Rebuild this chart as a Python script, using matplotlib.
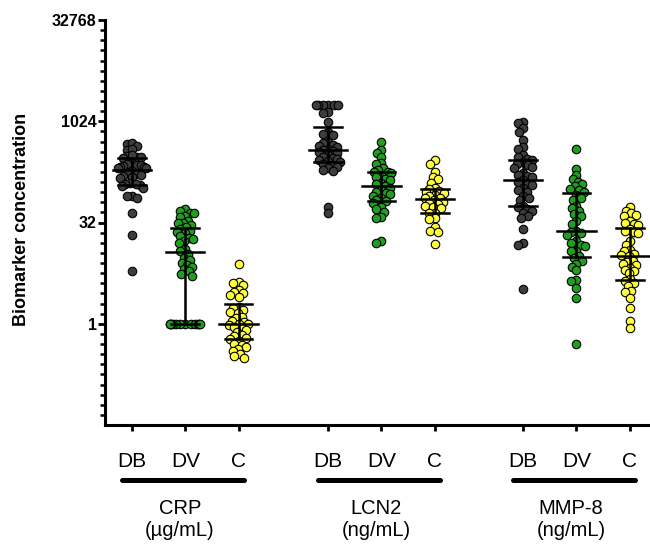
import numpy as np
import matplotlib
matplotlib.use('Agg')
import matplotlib.pyplot as plt
from matplotlib import transforms
from matplotlib.ticker import NullFormatter

plt.rcParams['font.family'] = ['Liberation Sans', 'DejaVu Sans']

# ---------------- data ----------------
groups = ['DB', 'DV', 'C']
biomarkers = ['CRP', 'LCN2', 'MMP-8']
units = ['(\u00b5g/mL)', '(ng/mL)', '(ng/mL)']
positions = [0, 1, 2, 3.68, 4.68, 5.68, 7.34, 8.34, 9.34]
colors = ['#3d3d3d', '#1f9e1f', '#ffff3a']

crp_db = [465, 480, 440, 378, 390, 300, 310, 290, 320, 298,
          245, 238, 230, 226, 220, 215, 212, 208, 205,
          185, 175, 168, 160, 155, 150, 145,
          125, 118, 114, 110, 105, 120, 80, 78, 75, 44, 21, 6]
crp_dv = [50, 47, 45, 44, 40, 38, 34, 32, 31, 29, 27, 26, 24, 23, 22, 20, 19, 18, 17, 16,
          13, 12, 11, 9.5, 9, 8, 7.5, 7, 6.5, 6, 5.5, 5.2,
          1, 1, 1, 1, 1, 1, 1, 1, 1, 1, 1, 1]
crp_c = [7.8, 4.2, 4.0, 3.8, 3.2, 3.0, 2.9, 2.7, 2.5, 1.8, 1.7, 1.6, 1.5, 1.45,
         1.25, 1.2, 1.1, 1.05, 1.0, 1.0, 0.95, 0.9, 0.85, 0.8, 0.75,
         0.68, 0.65, 0.62, 0.6, 0.56, 0.5, 0.48, 0.45, 0.42, 0.4, 0.35, 0.33, 0.31]
lcn2_db = [1800, 1800, 1800, 1800, 1800, 1800, 1400, 1350, 990, 700, 660, 630,
           500, 480, 460, 440, 420, 395, 380, 365, 354, 340, 320,
           300, 290, 280, 270, 260, 250, 240, 230, 215, 205, 195, 185, 55, 44]
lcn2_dv = [500, 380, 340, 300, 245, 235, 205, 195, 182, 178, 172, 160, 150, 140, 135,
           125, 118, 110, 105, 96, 92, 88, 84, 80, 74, 70, 66, 62, 54, 50, 46, 39, 37, 17, 16]
lcn2_c = [270, 240, 180, 150, 140, 125, 105, 100, 95, 90, 88, 82, 78, 75, 73,
          68, 65, 62, 60, 56, 54, 52, 45, 44, 37, 36, 27, 24, 23, 15.5]
mmp8_db = [1000, 950, 805, 700, 530, 420, 400, 320, 300, 280, 270, 250, 240, 230, 215, 210,
           175, 165, 155, 150, 135, 128, 120, 115, 103, 96, 90, 80, 75, 68,
           57, 54, 50, 48, 44, 40, 37, 26, 16, 15, 3.3]
mmp8_dv = [400, 200, 161, 140, 130, 118, 110, 100, 96, 92, 82, 75, 70, 57, 52, 48, 43, 40,
           34, 30, 24, 23, 22, 21, 17, 16, 15, 14.5, 12.2, 12, 10.3, 9.5, 8.7,
           7.8, 7, 6.2, 4.5, 4.3, 3.4, 2.4, 0.5]
mmp8_c = [55, 48, 44, 41, 40, 34, 32, 30, 29, 26, 24, 23, 22, 17, 15,
          12.5, 12, 11, 10.5, 10, 8.7, 8.3, 7.8, 7.5, 6.8, 6.4, 6, 5.6,
          4.6, 4.3, 4, 3.7, 3.1, 3.0, 2.4, 1.7, 1.1, 0.85]
series = [crp_db, crp_dv, crp_c, lcn2_db, lcn2_dv, lcn2_c, mmp8_db, mmp8_dv, mmp8_c]

ytick_vals = [1, 32, 1024, 32768]
ytick_labels = ['1', '32', '1024', '32768']

# ---------------- figure ----------------
fig = plt.figure(figsize=(6.5, 5.5), dpi=100)
ax = fig.add_axes([105/650, 125/550, 545/650, 405/550])
ax.set_yscale('log', base=2)
ax.set_xlim(-0.507, 9.72)
ax.set_ylim(2.0**-5, 32768)

for s in ['top', 'right']:
    ax.spines[s].set_visible(False)
for s in ['left', 'bottom']:
    ax.spines[s].set_linewidth(2.2)

ax.set_yticks(ytick_vals)
ax.set_yticklabels(ytick_labels, fontsize=11.5, fontweight='bold')
minor = [2.0**(k*0.5) for k in range(-10, 31) if k % 10 != 0]
ax.set_yticks(minor, minor=True)
ax.yaxis.set_minor_formatter(NullFormatter())
ax.tick_params(axis='y', which='major', direction='out', length=5, width=2, pad=1)
ax.tick_params(axis='y', which='minor', direction='out', length=3.5, width=1.8)
ax.set_xticks(positions)
ax.set_xticklabels([])
ax.tick_params(axis='x', which='major', direction='out', length=4, width=2)
fig.text(22/650, 1 - 219/550, 'Biomarker concentration', rotation=90, ha='center',
         va='center', fontsize=13, fontweight='bold')


def swarm(yp, mind):
    n = len(yp)
    xs = np.zeros(n)
    order = np.argsort(-yp)
    placed = []
    for i in order:
        y = yp[i]
        near = [(px, py) for px, py in placed if abs(py - y) < mind]
        cands = [0.0]
        for px, py in near:
            dx = np.sqrt(mind**2 - (py - y)**2)
            cands += [px + dx, px - dx]
        cands = sorted(cands, key=lambda c: (abs(c), c))
        for c in cands:
            if all((c - px)**2 + (y - py)**2 >= mind**2 - 1e-6 for px, py in near):
                xs[i] = c
                break
        placed.append((xs[i], y))
    return xs


T = ax.transData
px_per_unit = T.transform([[1, 1]])[0][0] - T.transform([[0, 1]])[0][0]
d_px = 8.5
mind = 5.6
half_w = 16.0
for i, (pos, vals) in enumerate(zip(positions, series)):
    v = np.array(vals, dtype=float)
    ypix = T.transform(np.column_stack([np.full(len(v), pos), v]))[:, 1]
    xs = swarm(ypix, mind)
    xs = half_w * np.tanh(xs / half_w)
    xo = xs / px_per_unit
    ax.scatter(pos + xo, v, s=(d_px * 0.72)**2, c=colors[i % 3], edgecolors='black',
               linewidths=0.8, zorder=3, clip_on=False)
    med = np.median(v)
    q1, q3 = np.percentile(v, [25, 75], method='weibull')
    ax.plot([pos - 0.36, pos + 0.36], [med, med], color='black', lw=1.8, zorder=4)
    ax.plot([pos, pos], [q1, q3], color='black', lw=1.8, zorder=4)
    for q in (q1, q3):
        ax.plot([pos - 0.26, pos + 0.26], [q, q], color='black', lw=1.8, zorder=4)

# category labels and group bars
bt = transforms.blended_transform_factory(ax.transData, fig.transFigure)
for i, pos in enumerate(positions):
    fig.text(pos, 0.151, groups[i % 3], transform=bt, ha='center', va='baseline', fontsize=15)
for g in range(3):
    p0 = positions[3*g]
    p2 = positions[3*g + 2]
    fig.add_artist(plt.Line2D([p0 - 0.19, p2 + 0.1], [0.128, 0.128], transform=bt,
                              color='black', lw=3.6, solid_capstyle='round'))
    mid = positions[3*g + 1] - 0.1
    fig.text(mid, 0.065, biomarkers[g], transform=bt, ha='center', va='baseline', fontsize=14.5)
    fig.text(mid, 0.026, units[g], transform=bt, ha='center', va='baseline', fontsize=14.5)

fig.savefig('out.png', dpi=100)
